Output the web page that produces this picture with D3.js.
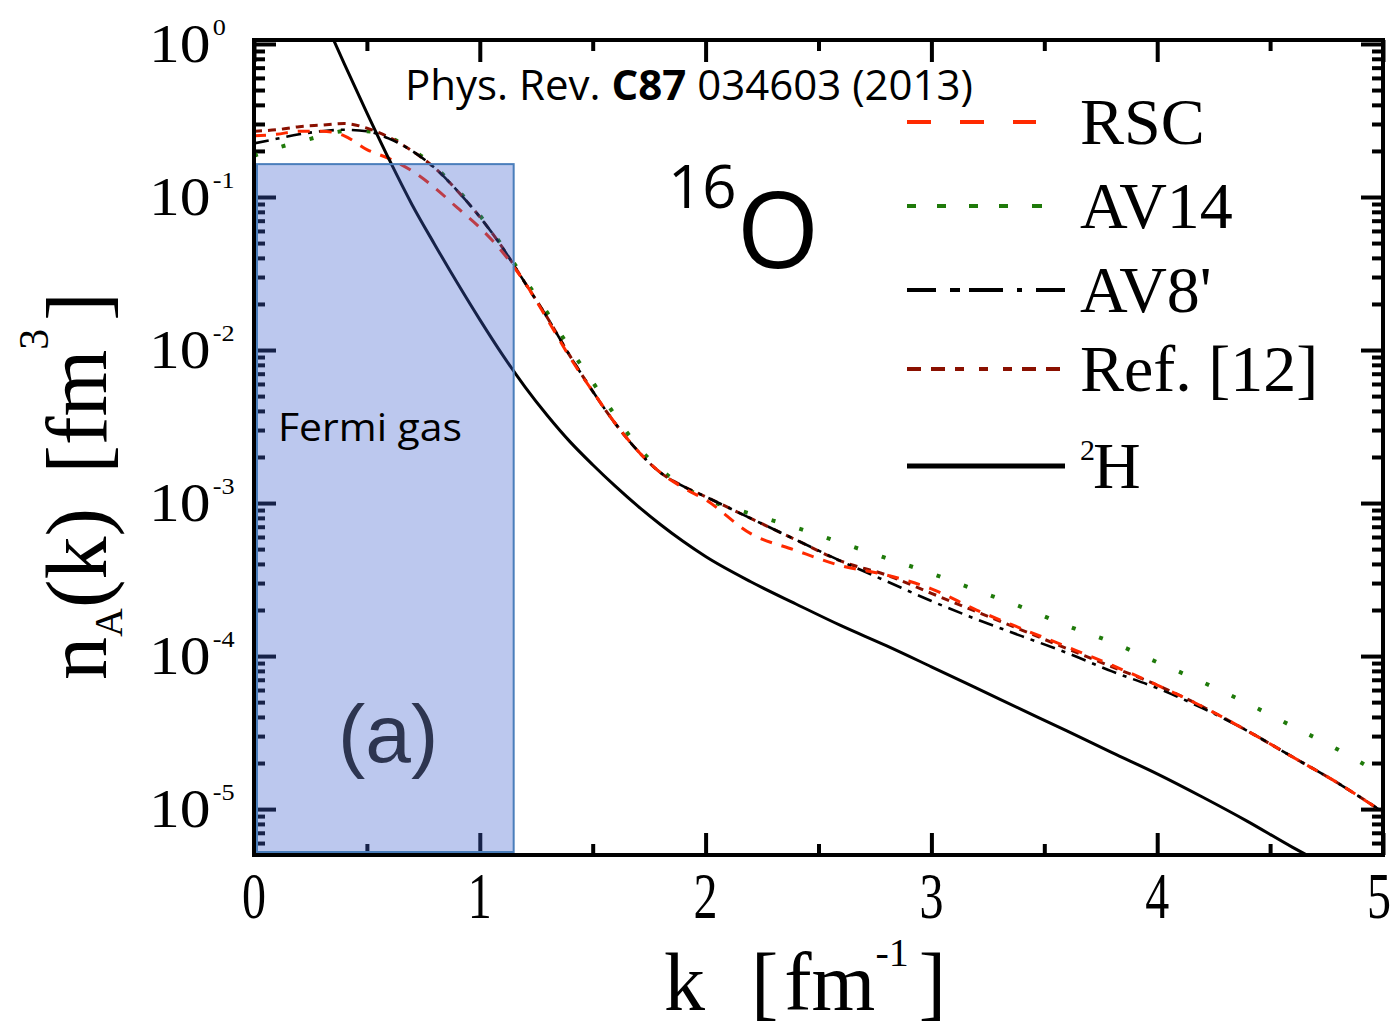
<!DOCTYPE html>
<html>
<head>
<meta charset="utf-8">
<script src="https://cdn.jsdelivr.net/npm/d3@7"></script>
<style>
  body { margin: 0; background: #fff; }
  svg { display: block; }
  .serif { font-family: "Liberation Serif", "DejaVu Serif", serif; fill: #000; }
  .sans { font-family: "Open Sans", "Noto Sans", sans-serif; fill: #000; }
</style>
</head>
<body>
<div id="chart"></div>
<script>
// momentum grid (fm^-1) for the 16O curves
const kGrid = [0, 0.1, 0.2, 0.3, 0.4, 0.5, 0.6, 0.7, 0.8, 0.9, 1.0, 1.1, 1.2, 1.3, 1.4, 1.5, 1.6, 1.7, 1.8, 1.9,
               2.0, 2.2, 2.4, 2.6, 2.8, 3.0, 3.2, 3.4, 3.6, 3.8, 4.0, 4.2, 4.4, 4.6, 4.8, 5.0];

// n_A(k) [fm^3]
const rscValues = [0.251, 0.257, 0.269, 0.269, 0.251, 0.204, 0.178, 0.148, 0.115, 0.0851, 0.0631, 0.0437, 0.0275, 0.0158,
                   0.00891, 0.00537, 0.00331, 0.00219, 0.00158, 0.00126, 0.00105, 6.31e-4, 4.90e-4, 3.89e-4, 3.39e-4,
                   2.75e-4, 2.00e-4, 1.51e-4, 1.15e-4, 8.71e-5, 6.46e-5, 4.68e-5, 3.24e-5, 2.19e-5, 1.48e-5, 9.55e-6];
const av14Values = [0.186, 0.209, 0.229, 0.251, 0.269, 0.269, 0.245, 0.204, 0.158, 0.112, 0.0759, 0.0479, 0.0288, 0.0174,
                    0.0102, 0.00617, 0.00372, 0.00234, 0.00166, 0.00129, 0.00107, 8.51e-4, 6.92e-4, 5.50e-4, 4.37e-4,
                    3.47e-4, 2.69e-4, 2.09e-4, 1.58e-4, 1.23e-4, 9.12e-5, 6.76e-5, 4.90e-5, 3.47e-5, 2.45e-5, 1.66e-5];
const av8Values = [0.224, 0.240, 0.257, 0.269, 0.275, 0.269, 0.240, 0.200, 0.155, 0.110, 0.0741, 0.0468, 0.0275, 0.0162,
                   0.00912, 0.00537, 0.00331, 0.00219, 0.00158, 0.00129, 0.00110, 7.94e-4, 5.75e-4, 4.17e-4, 3.09e-4,
                   2.29e-4, 1.74e-4, 1.35e-4, 1.05e-4, 7.94e-5, 6.17e-5, 4.57e-5, 3.24e-5, 2.19e-5, 1.48e-5, 9.55e-6];
const ref12Values = [0.269, 0.275, 0.288, 0.295, 0.302, 0.282, 0.245, 0.200, 0.155, 0.110, 0.0741, 0.0468, 0.0275, 0.0162,
                     0.00912, 0.00537, 0.00331, 0.00219, 0.00158, 0.00129, 0.00110, 7.94e-4, 5.75e-4, 4.17e-4, 3.39e-4,
                     2.57e-4, 1.95e-4, 1.48e-4, 1.12e-4, 8.51e-5, 6.46e-5, 4.68e-5, 3.24e-5, 2.19e-5, 1.48e-5, 9.55e-6];

// deuteron
const kDeuteron = [0.33, 0.4, 0.5, 0.6, 0.7, 0.8, 0.9, 1.0, 1.1, 1.2, 1.3, 1.4, 1.5, 1.6, 1.7, 1.8, 1.9, 2.0,
                   2.2, 2.4, 2.6, 2.8, 3.0, 3.2, 3.4, 3.6, 3.8, 4.0, 4.2, 4.4, 4.6, 4.7];
const deuteronValues = [1.26, 0.741, 0.355, 0.174, 0.0891, 0.0490, 0.0275, 0.0158, 0.00933, 0.00575, 0.00372, 0.00251,
                        0.00178, 0.00129, 9.55e-4, 7.24e-4, 5.62e-4, 4.47e-4, 3.06e-4, 2.19e-4, 1.58e-4, 1.17e-4,
                        8.51e-5, 6.17e-5, 4.47e-5, 3.24e-5, 2.34e-5, 1.70e-5, 1.20e-5, 8.32e-6, 5.62e-6, 4.68e-6];

const seriesNames = ["RSC", "AV14", "AV8'", "Ref. [12]", "H"];
const xTickLabels = ["0", "1", "2", "3", "4", "5"];
const yExponents = ["0", "-1", "-2", "-3", "-4", "-5"];

// Fermi gas box: k range and upper edge
const fermiK = [0, 1.15];
const fermiTop = 0.164;

const width = 1392, height = 1030;
const margin = { top: 40, right: 9, bottom: 175, left: 254 };
const innerW = width - margin.left - margin.right;
const innerH = height - margin.top - margin.bottom;

const x = d3.scaleLinear().domain([0, 5]).range([margin.left, width - margin.right]);
const y = d3.scaleLog().domain([Math.pow(10, -5.30), Math.pow(10, 0.026)])
    .range([height - margin.bottom, margin.top]);

const styles = {
    "RSC":       { color: "#ff2a00", dash: "12,10",     width: 3,   legendEnd: 1036, legendDash: "24,29" },
    "AV14":      { color: "#1f7a0a", dash: "4,25",      width: 4,   legendEnd: 1042, legendDash: "9,21,9,23,9,21,9,24,10" },
    "AV8'":      { color: "#000000", dash: "15,7,4,7",  width: 2.6, legendEnd: 1065, legendDash: "29,14,10,9,34,14,5,14,30" },
    "Ref. [12]": { color: "#8a1000", dash: "8,6",       width: 3,   legendEnd: 1060, legendDash: "14,10,14,10,9,15,9,15,9,10,14,10,14" },
    "H":         { color: "#000000", dash: null,        width: 3,   legendEnd: 1065, legendDash: null }
};

const svg = d3.select("#chart").append("svg")
    .attr("width", width)
    .attr("height", height);

svg.append("defs").append("clipPath").attr("id", "plotClip")
    .append("rect")
    .attr("x", margin.left).attr("y", margin.top)
    .attr("width", innerW).attr("height", innerH);

// ---- axes (ticks inside the frame) ----
const majorY = [1, 1e-1, 1e-2, 1e-3, 1e-4, 1e-5];
const minorY = y.ticks().filter(v => !majorY.some(m => Math.abs(Math.log10(v) - Math.log10(m)) < 1e-6));
const majorX = [0, 1, 2, 3, 4, 5];
const minorX = [0.5, 1.5, 2.5, 3.5, 4.5];

function tickGroup(axisFn, scale, values, size, translate) {
    const g = svg.append("g")
        .attr("transform", translate)
        .call(axisFn(scale).tickValues(values).tickSize(-size).tickSizeOuter(0).tickFormat(""));
    g.select(".domain").remove();
    g.selectAll("line").attr("stroke", "#000").attr("stroke-width", 4);
    return g;
}

tickGroup(d3.axisLeft, y, minorY, 11, `translate(${margin.left},0)`);
tickGroup(d3.axisLeft, y, majorY, 22, `translate(${margin.left},0)`);
tickGroup(d3.axisRight, y, minorY, 11, `translate(${width - margin.right},0)`);
tickGroup(d3.axisRight, y, majorY, 22, `translate(${width - margin.right},0)`);
tickGroup(d3.axisTop, x, minorX, 11, `translate(0,${margin.top})`);
tickGroup(d3.axisTop, x, majorX, 22, `translate(0,${margin.top})`);
tickGroup(d3.axisBottom, x, minorX, 11, `translate(0,${height - margin.bottom})`);
tickGroup(d3.axisBottom, x, majorX, 22, `translate(0,${height - margin.bottom})`);

// ---- curves ----
const line = d3.line()
    .x(d => x(d[0]))
    .y(d => y(d[1]))
    .curve(d3.curveMonotoneX);

const curves = [
    { name: "AV14", k: kGrid, v: av14Values },
    { name: "Ref. [12]", k: kGrid, v: ref12Values },
    { name: "AV8'", k: kGrid, v: av8Values },
    { name: "RSC", k: kGrid, v: rscValues },
    { name: "H", k: kDeuteron, v: deuteronValues }
];

const plot = svg.append("g").attr("clip-path", "url(#plotClip)");
curves.forEach(c => {
    const st = styles[c.name];
    plot.append("path")
        .datum(c.k.map((k, i) => [k, c.v[i]]))
        .attr("fill", "none")
        .attr("stroke", st.color)
        .attr("stroke-width", st.width)
        .attr("stroke-dasharray", st.dash)
        .attr("d", line);
});

// ---- Fermi gas box (translucent, over the curves) ----
svg.append("rect")
    .attr("x", x(fermiK[0]) + 3)
    .attr("y", y(fermiTop))
    .attr("width", x(fermiK[1]) - x(fermiK[0]) - 3)
    .attr("height", y.range()[0] - 3 - y(fermiTop))
    .attr("fill", "rgb(63,98,206)")
    .attr("fill-opacity", 0.35)
    .attr("stroke", "#4a7ebb")
    .attr("stroke-width", 2);

// ---- frame ----
svg.append("rect")
    .attr("x", margin.left).attr("y", margin.top)
    .attr("width", innerW).attr("height", innerH)
    .attr("fill", "none").attr("stroke", "#000").attr("stroke-width", 4);

// ---- tick labels ----
svg.append("g").selectAll("text")
    .data(majorX)
    .join("text")
    .attr("class", "serif")
    .attr("transform", d => `translate(${Math.min(x(d), width - 13)},918) scale(0.8,1.08)`)
    .attr("text-anchor", "middle")
    .attr("font-size", 60)
    .text((d, i) => xTickLabels[i]);

const yLab = svg.append("g").selectAll("text")
    .data(majorY)
    .join("text")
    .attr("class", "serif")
    .attr("transform", d => `translate(149,${y(d) + 18}) scale(1.14,1)`)
    .attr("font-size", 54);
yLab.append("tspan").text("10");
yLab.append("tspan")
    .attr("font-size", 23)
    .attr("dy", -27)
    .attr("dx", 2)
    .text((d, i) => yExponents[i]);

// ---- axis titles ----
const xTitle = svg.append("text")
    .attr("class", "serif")
    .attr("x", 664)
    .attr("y", 1010)
    .attr("font-size", 82);
xTitle.append("tspan").text("k");
xTitle.append("tspan").attr("dx", 46).text("[");
xTitle.append("tspan").attr("dx", 6).text("fm");
xTitle.append("tspan").attr("font-size", 40).attr("dy", -44).text("-1");
xTitle.append("tspan").attr("dy", 44).attr("dx", 10).text("]");

const yTitle = svg.append("text")
    .attr("class", "serif")
    .attr("transform", "translate(106,680) rotate(-90)")
    .attr("font-size", 86);
yTitle.append("tspan").text("n");
yTitle.append("tspan").attr("font-size", 40).attr("dy", 16).text("A");
yTitle.append("tspan").attr("dy", -16).text("(k)");
yTitle.append("tspan").attr("dx", 34).text("[fm");
yTitle.append("tspan").attr("font-size", 42).attr("dy", -58).text("3");
yTitle.append("tspan").attr("dy", 58).attr("dx", 8).text("]");

// ---- legend ----
const legendY = [122, 206, 290, 369, 466];
const legend = svg.append("g");
seriesNames.forEach((name, i) => {
    const st = styles[name];
    legend.append("line")
        .attr("x1", 907).attr("x2", st.legendEnd)
        .attr("y1", legendY[i]).attr("y2", legendY[i])
        .attr("stroke", st.color)
        .attr("stroke-width", name === "H" ? 5 : 4)
        .attr("stroke-dasharray", st.legendDash);
    const t = legend.append("text")
        .attr("class", "serif")
        .attr("x", 1080)
        .attr("y", legendY[i] + 22)
        .attr("font-size", 66);
    if (name === "H") {
        t.append("tspan").attr("font-size", 30).attr("dy", -28).text("2");
        t.append("tspan").attr("dy", 28).attr("dx", -2).text("H");
    } else {
        t.text(name);
    }
});

// ---- annotations ----
const ref = svg.append("text")
    .attr("class", "sans")
    .attr("x", 405)
    .attr("y", 100)
    .attr("font-size", 42);
ref.append("tspan").text("Phys. Rev. ");
ref.append("tspan").attr("font-weight", "bold").text("C87");
ref.append("tspan").text(" 034603 (2013)");

const nucleus = svg.append("text")
    .attr("class", "sans")
    .attr("x", 668)
    .attr("y", 268);
nucleus.append("tspan").attr("font-size", 60).attr("dy", -60).text("16");
nucleus.append("tspan").attr("font-size", 106).attr("dy", 60).text("O");

svg.append("text")
    .attr("class", "sans")
    .attr("x", 278)
    .attr("y", 441)
    .attr("font-size", 39)
    .attr("textLength", 184)
    .attr("lengthAdjust", "spacingAndGlyphs")
    .text("Fermi gas");

svg.append("text")
    .attr("x", 338)
    .attr("y", 762)
    .attr("font-family", "Liberation Sans, Arial, sans-serif")
    .attr("font-size", 82)
    .attr("fill", "#2d3550")
    .text("(a)");
</script>
</body>
</html>
